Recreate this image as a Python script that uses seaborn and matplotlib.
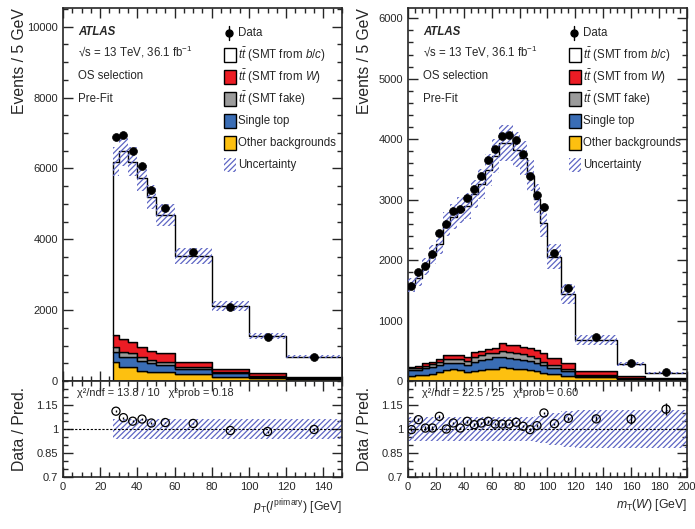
import numpy as np
import pandas as pd
import matplotlib
matplotlib.use("Agg")
import matplotlib.pyplot as plt
from matplotlib.patches import Rectangle
from matplotlib.ticker import MultipleLocator, FixedLocator, FixedFormatter, NullFormatter
import seaborn as sns

# 1. Values (events / 5 GeV)
# --- left: pT of the primary lepton ---
pt_edges = [27, 30, 35, 40, 45, 50, 60, 80, 100, 120, 150]
pt_data = [6884, 6958, 6497, 6082, 5395, 4878, 3653, 2099, 1251, 684]
pt_data_err = [48, 37, 36, 35, 33, 22, 13, 10, 8, 6]
pt_other = [546, 405, 386, 283, 264, 245, 188, 122, 75, 47]
pt_single_top = [264, 283, 283, 292, 235, 207, 151, 95, 45, 30]
pt_fake = [160, 122, 113, 94, 94, 94, 66, 47, 21, 15]
pt_from_w = [330, 367, 311, 301, 264, 236, 141, 75, 76, 30]
pt_from_bc = [4895, 5320, 5102, 4756, 4343, 3907, 2985, 1780, 1054, 564]
pt_unc = [0.065, 0.065, 0.065, 0.065, 0.065, 0.065, 0.065, 0.065, 0.065, 0.065]
pt_chi2 = "\u03c7\u00b2/ndf = 13.8 / 10   \u03c7\u00b2prob = 0.18"

# --- right: transverse W mass ---
mt_edges = [0, 5, 10, 15, 20, 25, 30, 35, 40, 45, 50, 55, 60, 65, 70, 75, 80,
            85, 90, 95, 100, 110, 120, 150, 170, 200]
mt_data = [1578, 1799, 1909, 2103, 2445, 2594, 2820, 2842, 3035, 3179, 3383,
           3659, 3836, 4056, 4062, 3990, 3753, 3383, 3079, 2870, 2125, 1534,
           723, 293, 154]
mt_data_err = [18, 19, 20, 21, 22, 23, 24, 24, 25, 25, 26, 27, 28, 28, 28, 28,
               27, 26, 25, 24, 15, 12, 11, 8, 5]
mt_other = [88, 94, 99, 116, 149, 182, 193, 182, 155, 171, 182, 193, 193, 226,
            215, 204, 193, 182, 166, 138, 110, 83, 65, 33, 17]
mt_single_top = [94, 88, 111, 121, 116, 111, 111, 111, 110, 144, 166, 177, 199,
                 177, 166, 166, 155, 144, 127, 121, 100, 83, 20, 15, 8]
mt_fake = [28, 28, 38, 39, 50, 66, 66, 66, 61, 88, 77, 88, 77, 99, 105, 99, 99,
           88, 82, 61, 49, 27, 14, 8, 6]
mt_from_w = [27, 38, 45, 44, 44, 66, 66, 77, 77, 77, 72, 66, 72, 122, 110, 122,
             122, 132, 138, 138, 116, 100, 70, 27, 13]
mt_from_bc = [1347, 1452, 1605, 1770, 1907, 2169, 2282, 2389, 2493, 2615, 2764,
              2967, 3180, 3310, 3344, 3238, 3121, 2851, 2503, 2151, 1682, 1145,
              511, 193, 93]
mt_unc = [0.075, 0.075, 0.075, 0.075, 0.075, 0.075, 0.075, 0.075, 0.075, 0.075,
          0.075, 0.075, 0.075, 0.075, 0.075, 0.075, 0.075, 0.075, 0.08, 0.09,
          0.10, 0.11, 0.12, 0.12, 0.12]
mt_chi2 = "\u03c7\u00b2/ndf = 22.5 / 25   \u03c7\u00b2prob = 0.60"

# 2. Process names / colours (stack order: first = top)
processes = ["bc", "W", "fake", "single", "other"]
palette = {"bc": "white", "W": "#ec1c24", "fake": "#9b9b9b",
           "single": "#3a6db5", "other": "#fdc010"}
hatch_col = "#5e66c4"
legend_labels = ["Data",
                 r"$t\bar{t}$ (SMT from $b/c$)",
                 r"$t\bar{t}$ (SMT from $W$)",
                 r"$t\bar{t}$ (SMT fake)",
                 "Single top",
                 "Other backgrounds",
                 "Uncertainty"]

# 3. Style
sns.set_style("ticks")
plt.rcParams["font.family"] = ["Liberation Sans", "DejaVu Sans"]
plt.rcParams["font.size"] = 8.3
plt.rcParams["mathtext.fontset"] = "custom"
plt.rcParams["mathtext.rm"] = "Liberation Sans"
plt.rcParams["mathtext.it"] = "Liberation Sans:italic"
plt.rcParams["mathtext.bf"] = "Liberation Sans:bold"
plt.rcParams["hatch.linewidth"] = 0.9
plt.rcParams["axes.linewidth"] = 1.2

fig = plt.figure(figsize=(6.95, 5.29), dpi=100)


def draw_legend(ax):
    # legend rows laid out by hand so that every row has the same spacing
    row_y = 0.933
    step = 0.059
    box_x, box_w, box_h = 0.577, 0.043, 0.037
    text_x = 0.627
    for i, label in enumerate(legend_labels):
        y = row_y - i * step
        if i == 0:
            ax.plot([0.595, 0.595], [y - 0.018, y + 0.018], color="black", lw=1,
                    transform=ax.transAxes, clip_on=False)
            ax.plot([0.595], [y], marker="o", color="black", markersize=5,
                    transform=ax.transAxes, clip_on=False)
        elif i == len(legend_labels) - 1:
            ax.add_patch(Rectangle((box_x, y - box_h / 2), box_w, box_h, facecolor="none",
                                   edgecolor=hatch_col, hatch="//////", linewidth=0,
                                   transform=ax.transAxes))
        else:
            ax.add_patch(Rectangle((box_x, y - box_h / 2), box_w, box_h,
                                   facecolor=palette[processes[i - 1]], edgecolor="black",
                                   linewidth=1, transform=ax.transAxes, zorder=6))
        ax.text(text_x, y, label, transform=ax.transAxes, va="center")


def draw_panel(left, edges, data, data_err, comps, unc, ymax, ymajor, yminor,
               xmax, xlabel, chi2_text):
    edge_arr = np.array(edges, dtype=float)
    centers = 0.5 * (edge_arr[:-1] + edge_arr[1:])
    data = np.array(data, dtype=float)
    data_err = np.array(data_err, dtype=float)
    unc = np.array(unc)

    ax = fig.add_axes([left, 0.2798, 0.4014, 0.7051])
    rax = fig.add_axes([left, 0.0983, 0.4014, 0.1815])

    # stacked MC
    rows = []
    for proc, vals in zip(processes, comps):
        for c, v in zip(centers, vals):
            rows.append({"x": c, "w": v, "proc": proc})
    df = pd.DataFrame(rows)
    sns.histplot(data=df, x="x", weights="w", hue="proc", hue_order=processes,
                 multiple="stack", bins=list(edges), element="step", fill=True,
                 palette=palette, alpha=1, edgecolor="black", linewidth=1.0,
                 legend=False, ax=ax)
    total = np.sum(np.array(comps, dtype=float), axis=0)

    # uncertainty band
    ax.stairs(total * (1 + unc), edge_arr, baseline=total * (1 - unc), fill=True,
              facecolor="none", edgecolor=hatch_col, hatch="//////", linewidth=0, zorder=3)

    # data
    ax.errorbar(centers, data, yerr=data_err, fmt="none", ecolor="black",
                elinewidth=1, zorder=4)
    sns.scatterplot(x=centers, y=data, color="black", s=32, edgecolor="black",
                    linewidth=0.5, zorder=5, legend=False, ax=ax)

    ax.set_xlim(0, xmax)
    ax.set_ylim(0, ymax)
    ax.set_xlabel("")
    ax.set_ylabel("Events / 5 GeV", loc="top", fontsize=11.3)
    ax.yaxis.set_label_coords(-0.13, 1.0)
    ax.yaxis.set_major_locator(MultipleLocator(ymajor))
    ax.yaxis.set_minor_locator(MultipleLocator(yminor))
    ax.xaxis.set_major_locator(MultipleLocator(20))
    ax.xaxis.set_minor_locator(MultipleLocator(5))
    ax.xaxis.set_major_formatter(NullFormatter())

    # labels
    ax.text(0.054, 0.936, "ATLAS", transform=ax.transAxes, fontweight="bold",
            fontstyle="italic", va="center")
    ax.text(0.054, 0.882, "\u221as = 13 TeV, 36.1 fb$^{-1}$",
            transform=ax.transAxes, va="center")
    ax.text(0.054, 0.818, "OS selection", transform=ax.transAxes, va="center")
    ax.text(0.054, 0.756, "Pre-Fit", transform=ax.transAxes, va="center")
    draw_legend(ax)

    # ratio panel
    ratio = data / total
    ratio_err = data_err / total
    rax.stairs(1 + unc, edge_arr, baseline=1 - unc, fill=True, facecolor="none",
               edgecolor=hatch_col, hatch="//////", linewidth=0)
    rax.axhline(1, color="black", linestyle=(0, (2, 1.5)), linewidth=0.8)
    rax.errorbar(centers, ratio, yerr=ratio_err, fmt="none", ecolor="black",
                 elinewidth=1, zorder=4)
    sns.scatterplot(x=centers, y=ratio, facecolor="none", edgecolor="black", s=34,
                    linewidth=0.9, zorder=5, legend=False, ax=rax)
    rax.set_xlim(0, xmax)
    rax.set_ylim(0.7, 1.3)
    rax.yaxis.set_major_locator(FixedLocator([0.7, 0.85, 1.0, 1.15]))
    rax.yaxis.set_major_formatter(FixedFormatter(["0.7", "0.85", "1", "1.15"]))
    rax.yaxis.set_minor_locator(MultipleLocator(0.05))
    rax.xaxis.set_major_locator(MultipleLocator(20))
    rax.xaxis.set_minor_locator(MultipleLocator(5))
    rax.set_ylabel("Data / Pred.", fontsize=11.3)
    rax.yaxis.set_label_coords(-0.13, 0.5)
    rax.set_xlabel(xlabel, loc="right", fontsize=8.8)
    rax.text(0.05, 0.875, chi2_text, transform=rax.transAxes, va="center", fontsize=7.8)

    for a in (ax, rax):
        a.tick_params(which="both", direction="in", top=True, right=True, width=1,
                      labelsize=8)
        a.tick_params(which="major", length=7)
        a.tick_params(which="minor", length=3.5)


# 4. Draw both panels
draw_panel(0.0906, pt_edges, pt_data, pt_data_err,
           [pt_from_bc, pt_from_w, pt_fake, pt_single_top, pt_other], pt_unc,
           10530, 2000, 500, 150,
           r"$p_{\mathrm{T}}(l^{\mathrm{primary}})$ [GeV]", pt_chi2)
draw_panel(0.587, mt_edges, mt_data, mt_data_err,
           [mt_from_bc, mt_from_w, mt_fake, mt_single_top, mt_other], mt_unc,
           6170, 1000, 200, 200,
           r"$m_{\mathrm{T}}(W)$ [GeV]", mt_chi2)

fig.savefig("out.png", dpi=100)
